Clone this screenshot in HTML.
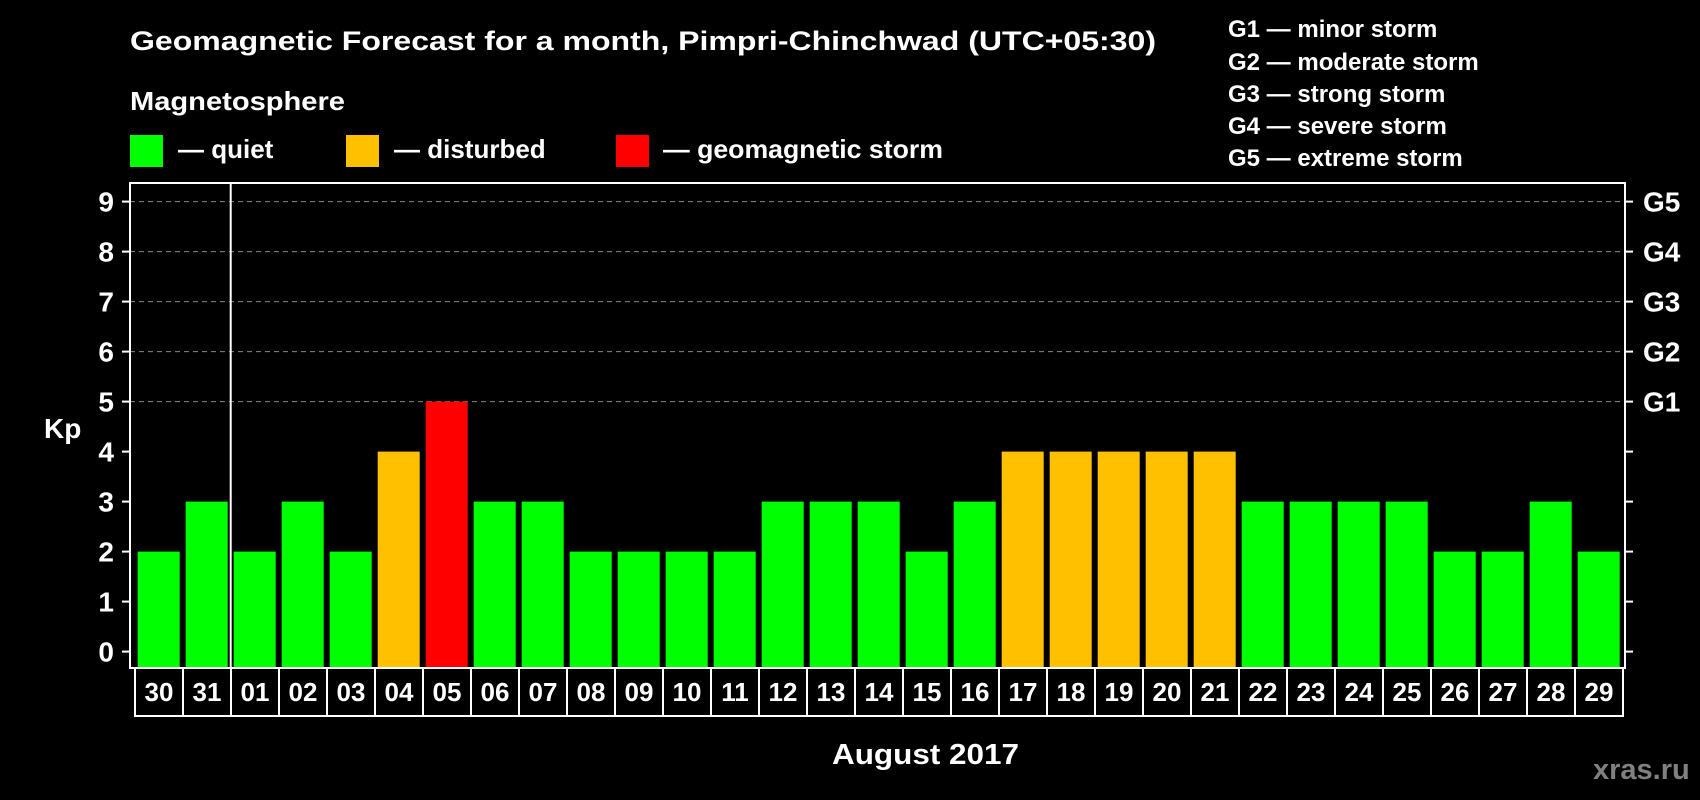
<!DOCTYPE html>
<html><head><meta charset="utf-8"><style>
html,body{margin:0;padding:0;background:#000;}
svg{display:block;font-family:"Liberation Sans",Arial,sans-serif;font-weight:bold;}
</style></head><body>
<svg id="chart" width="1700" height="800" viewBox="0 0 1700 800" xmlns="http://www.w3.org/2000/svg">
<rect x="0" y="0" width="1700" height="800" fill="#000"/>
<text x="130" y="50" font-size="27" fill="#fff" textLength="1026" lengthAdjust="spacingAndGlyphs">Geomagnetic Forecast for a month, Pimpri-Chinchwad (UTC+05:30)</text>
<text x="130" y="110" font-size="26" fill="#fff" textLength="215" lengthAdjust="spacingAndGlyphs">Magnetosphere</text>
<g>
<rect x="130" y="135" width="33" height="32" fill="#00ff00"/>
<text x="178" y="158" font-size="26" fill="#fff">— quiet</text></g>
<g>
<rect x="346" y="135" width="33" height="32" fill="#ffc000"/>
<text x="394" y="158" font-size="26" fill="#fff">— disturbed</text></g>
<g>
<rect x="616" y="135" width="33" height="32" fill="#ff0000"/>
<text x="663" y="158" font-size="26" fill="#fff" textLength="280" lengthAdjust="spacingAndGlyphs">— geomagnetic storm</text></g>
<g font-size="24" fill="#fff">
<text x="1228" y="37">G1 — minor storm</text>
<text x="1228" y="70">G2 — moderate storm</text>
<text x="1228" y="102">G3 — strong storm</text>
<text x="1228" y="134">G4 — severe storm</text>
<text x="1228" y="166">G5 — extreme storm</text>
</g>
<g id="plot"></g>
<text x="44" y="438" font-size="28" fill="#fff">Kp</text>
<text x="832" y="764" font-size="29" fill="#fff" textLength="187" lengthAdjust="spacingAndGlyphs">August 2017</text>
<text x="1593" y="779" font-size="29" fill="#808080">xras.ru</text>
</svg>
<script>
const days = ["30","31","01","02","03","04","05","06","07","08","09","10","11","12","13","14","15","16","17","18","19","20","21","22","23","24","25","26","27","28","29"];
const kp = [2,3,2,3,2,4,5,3,3,2,2,2,2,3,3,3,2,3,4,4,4,4,4,3,3,3,3,2,2,3,2];
const yTicks = [0,1,2,3,4,5,6,7,8,9];
const gLabels = ["G1","G2","G3","G4","G5"];
const gLevels = [5,6,7,8,9];
const monthStartIndex = 2;

const NS = "http://www.w3.org/2000/svg";
const plot = document.getElementById('plot');
const L = 130, R = 1625, T = 183, B = 668;
const y0 = 651.6, unit = 50;
const x0 = 137.7, pitch = 48, bw = 42;
function yS(v){ return y0 - v*unit; }
function xS(i){ return x0 + i*pitch; }
function mk(tag, attrs){ const e = document.createElementNS(NS, tag); for (const k in attrs) e.setAttribute(k, attrs[k]); plot.appendChild(e); return e; }
function colorFor(v){ return v >= 5 ? "#ff0000" : (v >= 4 ? "#ffc000" : "#00ff00"); }

// grid
gLevels.forEach(function(v, i){
  const g = mk('line', {x1:L, x2:R, y1:yS(v), y2:yS(v), stroke:'#888', 'stroke-width':1, 'stroke-dasharray':'5,4'});
  
  
});
// bars
kp.forEach(function(v, i){
  const r = mk('rect', {x:xS(i), y:yS(v), width:bw, height:(B - 1) - yS(v), fill:colorFor(v)});
  
  
});
// frame
const fr = mk('rect', {x:L, y:T, width:R-L, height:B-T, fill:'none', stroke:'#fff', 'stroke-width':2});


const dx = xS(monthStartIndex) - 3;
const dv = mk('line', {x1:dx, x2:dx, y1:T, y2:B, stroke:'#fff', 'stroke-width':2});


// y ticks
yTicks.forEach(function(v){
  const t = mk('line', {x1:L-8, x2:L, y1:yS(v), y2:yS(v), stroke:'#fff', 'stroke-width':2});
  
  
  const tr = mk('line', {x1:R, x2:R+8, y1:yS(v), y2:yS(v), stroke:'#fff', 'stroke-width':2});
  
  
  const tx = mk('text', {x:114, y:yS(v)+10, 'font-size':28, fill:'#fff', 'text-anchor':'end'});
  tx.textContent = v;
  
  
});
gLabels.forEach(function(g, i){
  const tx = mk('text', {x:1643, y:yS(gLevels[i])+10, 'font-size':28, fill:'#fff'});
  tx.textContent = g;
  
  
});
// day label boxes
days.forEach(function(d, i){
  const bx = xS(i) - 2.7;
  const r = mk('rect', {x:bx, y:B, width:pitch, height:48, fill:'none', stroke:'#fff', 'stroke-width':2});
  
  
  const t = mk('text', {x:bx + pitch/2, y:701, 'font-size':26, fill:'#fff', 'text-anchor':'middle'});
  t.textContent = d;
  
  
});
</script>
</body></html>
